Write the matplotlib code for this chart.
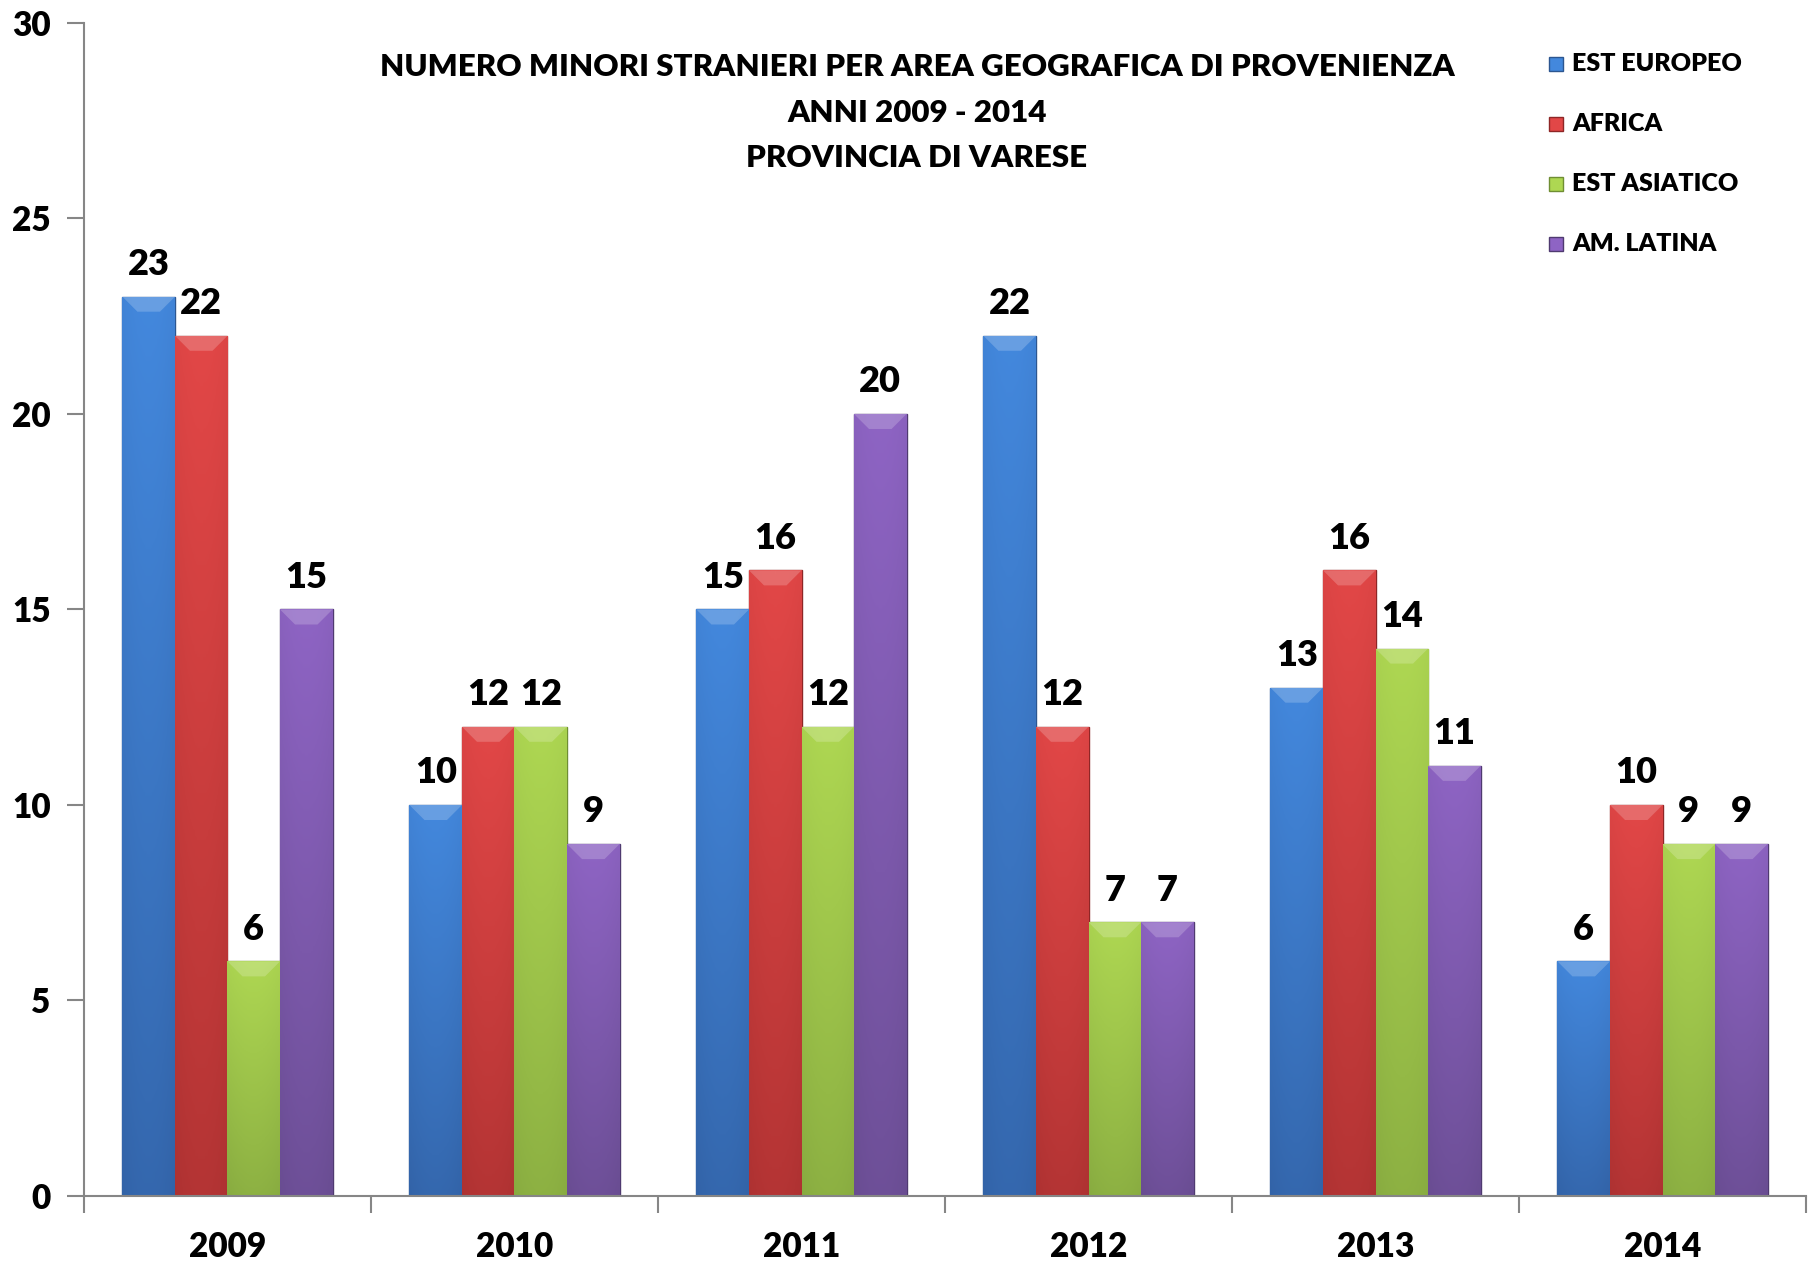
import numpy as np
import matplotlib
matplotlib.use("Agg")
import matplotlib.pyplot as plt
from matplotlib.colors import LinearSegmentedColormap
from matplotlib.patches import Polygon

years = ["2009", "2010", "2011", "2012", "2013", "2014"]
series = ["EST EUROPEO", "AFRICA", "EST ASIATICO", "AM. LATINA"]
est_europeo = [23, 10, 15, 22, 13, 6]
africa = [22, 12, 16, 12, 16, 10]
est_asiatico = [6, 12, 12, 7, 14, 9]
am_latina = [15, 9, 20, 7, 11, 9]
values = [est_europeo, africa, est_asiatico, am_latina]

# (top colour, bottom colour, edge) per series
colors = [("#4388dd", "#3262a6", "#2c5690"),
          ("#e24747", "#ac3131", "#8e2626"),
          ("#aed752", "#87aa40", "#6f8e33"),
          ("#8e64c4", "#684c90", "#4f3a70")]

plt.rcParams['font.family'] = ['Lato', 'DejaVu Sans']
W = 'heavy'

fig = plt.figure(figsize=(18.14, 12.62), dpi=100)
ax = fig.add_axes([0.0463, 0.0523, 0.9493, 0.9295])

ymax = 30
ax.set_xlim(0, len(years))
ax.set_ylim(0, ymax)

bw = 0.183
x0 = np.arange(len(years)) + 0.5 - 2 * bw

# pixel -> data sizes for the bevel
px_x = len(years) / (0.9493 * 1814)
px_y = ymax / (0.9295 * 1262)
bev = 15

for s, vals in enumerate(values):
    top, bot, edge = colors[s]
    cmap = LinearSegmentedColormap.from_list("g%d" % s, [bot, top])
    for i, v in enumerate(vals):
        left = x0[i] + s * bw
        rect = ax.bar(left, v, width=bw, align='edge', color=top,
                      edgecolor=edge, linewidth=1.0, zorder=2)[0]
        grad = np.linspace(0, 1, 256).reshape(-1, 1)
        h = np.linspace(-1, 1, 32)
        img = grad * 0.85 + 0.15 - 0.12 * (h ** 2)[None, :]
        im = ax.imshow(np.clip(img, 0, 1), cmap=cmap, vmin=0, vmax=1,
                       extent=[left, left + bw, 0, v], origin='lower',
                       aspect='auto', zorder=2.5)
        im.set_clip_path(rect)
        dx, dy = bev * px_x, bev * px_y
        bevel = Polygon([[left, v], [left + bw, v], [left + bw - dx, v - dy],
                         [left + dx, v - dy]], closed=True,
                        facecolor="white", alpha=0.2, edgecolor="none", zorder=3)
        ax.add_patch(bevel)
        ax.text(left + bw / 2, v + 0.4, str(v), ha='center', va='bottom',
                fontsize=26, fontweight=W, zorder=4)

ax.set_yticks(range(0, ymax + 1, 5))
ax.set_yticklabels([str(t) for t in range(0, ymax + 1, 5)], fontsize=24, fontweight=W)
ax.set_xticks(np.arange(len(years) + 1))
ax.set_xticklabels([])
ax.set_xticks(np.arange(len(years)) + 0.5, minor=True)
ax.set_xticklabels(years, minor=True, fontsize=24, fontweight=W)
ax.tick_params(axis='x', which='minor', length=0, pad=25)
ax.tick_params(axis='x', which='major', length=12, color='#868686', width=1.5)
ax.tick_params(axis='y', length=12, color='#868686', width=1.5, pad=12)
for side in ['top', 'right']:
    ax.spines[side].set_visible(False)
for side in ['left', 'bottom']:
    ax.spines[side].set_color('#868686')
    ax.spines[side].set_linewidth(1.5)

title = ["NUMERO MINORI STRANIERI PER AREA GEOGRAFICA DI PROVENIENZA",
         "ANNI 2009 - 2014", "PROVINCIA DI VARESE"]
for k, line in enumerate(title):
    fig.text(917 / 1814, 1 - (67 + 45.5 * k) / 1262, line, ha='center', va='center',
             fontsize=22.5, fontweight=W)

# legend
for k, name in enumerate(series):
    yc = 1 - (64 + 60 * k) / 1262
    xs = 1549 / 1814
    sq = 14
    fig.patches.append(plt.Rectangle((xs, yc - sq / 2 / 1262), sq / 1814, sq / 1262,
                                     transform=fig.transFigure, facecolor=colors[k][0],
                                     edgecolor=colors[k][2], lw=1, figure=fig))
    fig.text(1572 / 1814, yc, name, ha='left', va='center', fontsize=18, fontweight=W)

fig.savefig("out.png", dpi=100)
